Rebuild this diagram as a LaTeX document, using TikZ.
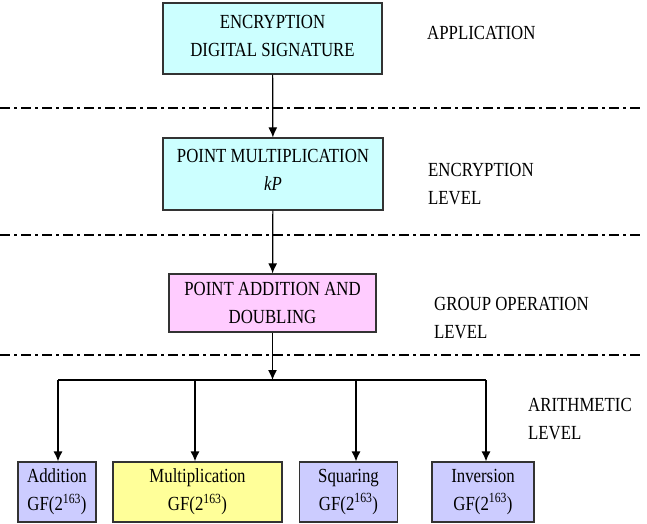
\documentclass[tikz,border=0pt]{standalone}
\usepackage{fontspec}
\setmainfont{Liberation Serif}
\usetikzlibrary{arrows.meta}
\definecolor{boxcyan}{RGB}{204,255,255}
\definecolor{boxpink}{RGB}{255,204,255}
\definecolor{boxblue}{RGB}{204,204,255}
\definecolor{boxyellow}{RGB}{255,255,153}
\newcommand{\nar}[1]{\scalebox{0.84}[1]{#1}}
\tikzstyle{block} = [draw=black!80, text centered, align=center, line width=1.2pt, inner sep=0pt, font=\fontsize{20}{28}\selectfont]
\tikzstyle{level} = [align=left, anchor=west, inner sep=0pt, font=\fontsize{20}{28}\selectfont]
\tikzstyle{sep} = [line width=1.6pt, dash pattern=on 10pt off 4pt on 3pt off 4pt]
\tikzstyle{arrow} = [-{Latex[length=10pt,width=9pt]}, line width=1.2pt]

\begin{document}
\begin{tikzpicture}[x=1pt,y=-1pt]
		\useasboundingbox (0,0) rectangle (647,524);
		\node [block, fill=boxcyan, minimum width=219pt, minimum height=71pt, text depth=5pt] at (272.5, 38.5) (app) {\nar{ENCRYPTION}\\\nar{DIGITAL SIGNATURE}};
		\node [block, fill=boxcyan, minimum width=220pt, minimum height=72pt, text depth=9pt] at (273, 174) (pm) {\nar{POINT MULTIPLICATION}\\\nar{\textit{kP}}};
		\node [block, fill=boxpink, minimum width=207pt, minimum height=58pt] at (272.5, 303) (pad) {\nar{POINT ADDITION AND}\\\nar{DOUBLING}};
		\node [block, fill=boxblue, minimum width=78pt, minimum height=60pt] at (57, 492) (add) {\nar{Addition}\\\nar{GF(2\textsuperscript{163})}};
		\node [block, fill=boxyellow, minimum width=169pt, minimum height=60pt] at (197.5, 492) (mul) {\nar{Multiplication}\\\nar{GF(2\textsuperscript{163})}};
		\node [block, fill=boxblue, minimum width=98pt, minimum height=60pt] at (348.5, 492) (sq) {\nar{Squaring}\\\nar{GF(2\textsuperscript{163})}};
		\node [block, fill=boxblue, minimum width=102pt, minimum height=60pt] at (483, 492) (inv) {\nar{Inversion}\\\nar{GF(2\textsuperscript{163})}};

		\node [level] at (427, 32.5) (l1) {\nar{APPLICATION}};
		\node [level] at (428, 184) (l2) {\nar{ENCRYPTION}\\\nar{LEVEL}};
		\node [level] at (434, 318.5) (l3) {\nar{GROUP OPERATION}\\\nar{LEVEL}};
		\node [level] at (528, 419) (l4) {\nar{ARITHMETIC}\\\nar{LEVEL}};

		\draw [sep] (0, 108) -- (640, 108);
		\draw [sep] (0, 235) -- (640, 235);
		\draw [sep] (0, 355) -- (640, 355);

		\coordinate (bus) at (272.5, 380);
		\coordinate (busA) at (58, 380);
		\coordinate (busM) at (195, 380);
		\coordinate (busS) at (356, 380);
		\coordinate (busI) at (486, 380);

		\draw [arrow] (app) -- (pm);
		\draw [arrow] (pm) -- (pad);
		\draw [arrow] (pad) -- (bus);
		\draw [line width=1.2pt] (busA) -- (busI);
		\draw [arrow] (busA) -- (busA |- add.north);
		\draw [arrow] (busM) -- (busM |- mul.north);
		\draw [arrow] (busS) -- (busS |- sq.north);
		\draw [arrow] (busI) -- (busI |- inv.north);
	\end{tikzpicture}
\end{document}
